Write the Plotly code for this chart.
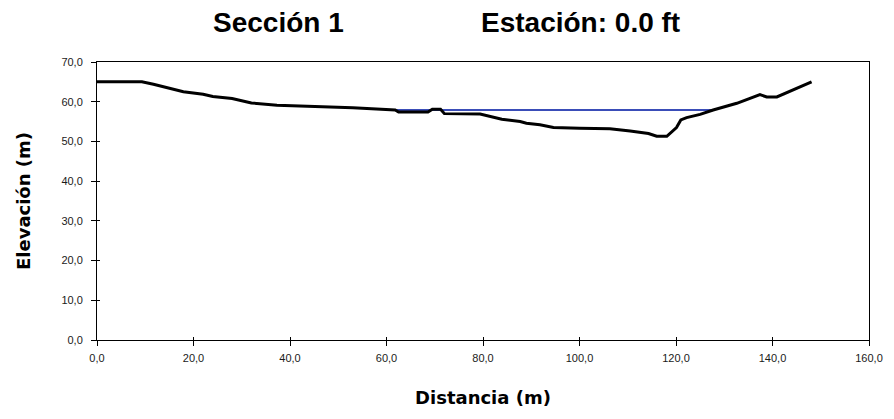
import plotly.graph_objects as go

# Cross-section terrain profile (distance, elevation)
distancia = [0.0, 9.3, 11.7, 13.7, 15.8, 17.9, 22.0, 24.0, 28.0, 30.0, 32.0, 37.3,
             53.0, 61.8, 62.5, 68.6, 69.5, 71.2, 72.0, 79.4, 81.8, 83.9, 87.7, 89.0,
             91.8, 94.6, 100.0, 106.3, 110.5, 114.3, 116.0, 118.1, 120.1, 121.0,
             122.2, 125.0, 127.7, 132.6, 137.4, 138.8, 140.9, 144.3, 148.1]
elevacion = [65.0, 65.0, 64.4, 63.8, 63.2, 62.5, 61.9, 61.3, 60.8, 60.2, 59.7, 59.1,
             58.5, 57.9, 57.4, 57.4, 58.1, 58.1, 57.0, 56.9, 56.2, 55.6, 55.0, 54.6,
             54.2, 53.5, 53.3, 53.2, 52.6, 52.0, 51.3, 51.3, 53.5, 55.4,
             56.0, 56.8, 57.9, 59.6, 61.8, 61.2, 61.2, 63.0, 65.0]

# Water surface
agua_x = [62.0, 127.7]
agua_y = [57.9, 57.9]

x_ticks = [0, 20, 40, 60, 80, 100, 120, 140, 160]
x_labels = ["0,0", "20,0", "40,0", "60,0", "80,0", "100,0", "120,0", "140,0", "160,0"]
y_ticks = [0, 10, 20, 30, 40, 50, 60, 70]
y_labels = ["0,0", "10,0", "20,0", "30,0", "40,0", "50,0", "60,0", "70,0"]

titulo_izq = "Sección 1"
titulo_der = "Estación: 0.0 ft"

FONT = "Liberation Sans, Arial, sans-serif"
WIDE = "DejaVu Sans, Verdana, sans-serif"

fig = go.Figure()
fig.add_trace(go.Scatter(x=agua_x, y=agua_y, mode="lines",
                         line=dict(color="#3a4db8", width=2), hoverinfo="skip"))
fig.add_trace(go.Scatter(x=distancia, y=elevacion, mode="lines",
                         line=dict(color="black", width=3)))
# invisible trace so the overlay axes (inner half of the crossing ticks) render
fig.add_trace(go.Scatter(x=[0], y=[0], xaxis="x2", yaxis="y2", mode="markers",
                         marker=dict(opacity=0), hoverinfo="skip"))

tick_font = dict(family=FONT, size=11, color="#1a1a1a")
title_font = dict(family=WIDE, size=18, color="black")

fig.update_layout(
    width=894, height=419,
    margin=dict(l=97, r=25, t=62, b=79),
    paper_bgcolor="white", plot_bgcolor="white",
    showlegend=False,
    font=dict(family=FONT, color="black"),
    xaxis=dict(range=[0, 160], tickvals=x_ticks, ticktext=x_labels,
               showgrid=False, zeroline=False, showline=True, linecolor="black",
               linewidth=1, mirror=True, ticks="outside", ticklen=5,
               tickcolor="black", tickfont=tick_font, ticklabelstandoff=3,
               title=dict(text="<b>Distancia (m)</b>", font=title_font, standoff=28)),
    yaxis=dict(range=[0, 70], tickvals=y_ticks, ticktext=y_labels,
               showgrid=False, zeroline=False, showline=True, linecolor="black",
               linewidth=1, mirror=True, ticks="outside", ticklen=5,
               tickcolor="black", tickfont=tick_font, ticklabelstandoff=6,
               title=dict(text="<b>Elevación (m)</b>", font=title_font, standoff=26)),
    xaxis2=dict(range=[0, 160], overlaying="x", side="bottom", tickvals=x_ticks,
                ticks="inside", ticklen=3, tickcolor="black", showticklabels=False,
                showgrid=False, zeroline=False, showline=False),
    yaxis2=dict(range=[0, 70], overlaying="y", side="left", tickvals=y_ticks,
                ticks="inside", ticklen=3, tickcolor="black", showticklabels=False,
                showgrid=False, zeroline=False, showline=False),
)

# title pieces, positioned in pixels
pw = 894 - 97 - 25
ph = 419 - 62 - 79
for texto, px in [(titulo_izq, 278), (titulo_der, 580)]:
    fig.add_annotation(text="<b>" + texto + "</b>", x=(px - 97) / pw,
                       y=(419 - 79 - 23) / ph, xref="paper", yref="paper",
                       xanchor="center", yanchor="middle", showarrow=False,
                       font=dict(family=FONT, size=28, color="black"))

fig.write_html("out.html")
